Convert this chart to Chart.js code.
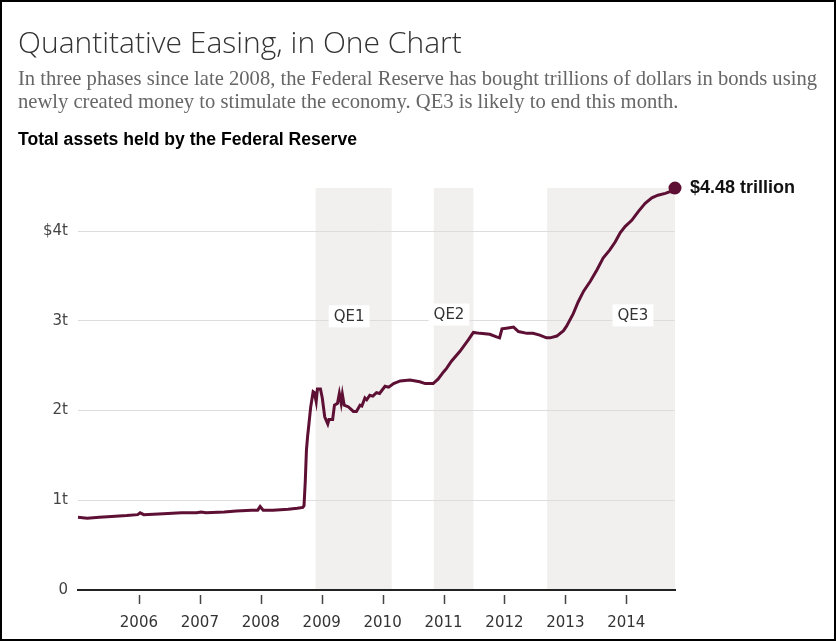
<!DOCTYPE html>
<html>
<head>
<meta charset="utf-8">
<script src="https://cdn.jsdelivr.net/npm/chart.js@4.4.1/dist/chart.umd.min.js"></script>
<style>
  html, body { margin: 0; padding: 0; background: #fff; }
  #page { position: relative; width: 836px; height: 641px; overflow: hidden; }
  #frame { position: absolute; left: 0; top: 0; width: 836px; height: 641px; box-sizing: border-box; border: 2px solid #000; pointer-events: none; }
  #chartBox { position: absolute; left: 0; top: 0; width: 836px; height: 641px; }
  .head { position: absolute; left: 18px; white-space: nowrap; }
  #title { top: 21px; font-family: "Open Sans", sans-serif; font-weight: 300; font-size: 30px; color: #333; }
  #sub { top: 67px; font-family: "Liberation Serif", serif; font-size: 20.6px; line-height: 23px; color: #666; }
  #label { top: 129px; font-family: "Liberation Sans", sans-serif; font-weight: bold; font-size: 17.6px; color: #000; }
</style>
</head>
<body>
<div id="page">
  <div id="chartBox"><canvas id="mychart"></canvas></div>
  <div class="head" id="title">Quantitative Easing, in One Chart</div>
  <div class="head" id="sub">In three phases since late 2008, the Federal Reserve has bought trillions of dollars in bonds using<br>newly created money to stimulate the economy. QE3 is likely to end this month.</div>
  <div class="head" id="label">Total assets held by the Federal Reserve</div>
  <div id="frame"></div>
</div>
<script>
// 連邦準備制度の総資産（兆ドル）、年は小数で表す
var years = [
  2005.00, 2005.15, 2005.35, 2005.55, 2005.80, 2005.98, 2006.02, 2006.08, 2006.40, 2006.70,
  2006.95, 2007.02, 2007.10, 2007.40, 2007.60, 2007.85, 2007.95, 2007.99, 2008.04, 2008.20,
  2008.45, 2008.60, 2008.69, 2008.71, 2008.73, 2008.75, 2008.77, 2008.78, 2008.82, 2008.86,
  2008.88, 2008.91, 2008.93, 2008.98, 2009.01, 2009.05, 2009.10, 2009.12, 2009.18, 2009.21,
  2009.26, 2009.29, 2009.32, 2009.34, 2009.37, 2009.44, 2009.52, 2009.57, 2009.63, 2009.66,
  2009.71, 2009.74, 2009.79, 2009.84, 2009.90, 2009.95, 2010.04, 2010.10, 2010.18, 2010.29,
  2010.45, 2010.61, 2010.70, 2010.83, 2010.91, 2011.00, 2011.05, 2011.13, 2011.27, 2011.41,
  2011.49, 2011.60, 2011.76, 2011.87, 2011.92, 2011.96, 2012.06, 2012.15, 2012.23, 2012.37,
  2012.47, 2012.58, 2012.69, 2012.75, 2012.86, 2012.97, 2013.02, 2013.13, 2013.21, 2013.30,
  2013.41, 2013.52, 2013.62, 2013.73, 2013.82, 2013.90, 2013.98, 2014.09, 2014.20, 2014.31,
  2014.42, 2014.52, 2014.64, 2014.72, 2014.76, 2014.80
];
var assets = [
  0.81, 0.80, 0.81, 0.82, 0.83, 0.84, 0.86, 0.84, 0.85, 0.86,
  0.86, 0.87, 0.86, 0.87, 0.88, 0.89, 0.89, 0.93, 0.89, 0.89,
  0.90, 0.91, 0.92, 0.94, 1.20, 1.56, 1.72, 1.78, 2.04, 2.21,
  2.20, 2.10, 2.24, 2.24, 2.14, 1.93, 1.85, 1.90, 1.90, 2.06,
  2.08, 2.19, 2.08, 2.18, 2.06, 2.04, 1.99, 1.99, 2.06, 2.05,
  2.14, 2.12, 2.17, 2.16, 2.20, 2.19, 2.27, 2.26, 2.30, 2.33,
  2.34, 2.32, 2.30, 2.30, 2.35, 2.43, 2.47, 2.55, 2.66, 2.79,
  2.87, 2.86, 2.85, 2.82, 2.81, 2.91, 2.92, 2.93, 2.88, 2.86,
  2.86, 2.84, 2.81, 2.81, 2.83, 2.89, 2.94, 3.08, 3.21, 3.33,
  3.44, 3.57, 3.70, 3.79, 3.88, 3.98, 4.05, 4.12, 4.22, 4.31,
  4.37, 4.40, 4.42, 4.44, 4.43, 4.48
];

// QEの期間
var qeNames = ['QE1', 'QE2', 'QE3'];
var qeStart = [2008.90, 2010.84, 2012.70];
var qeEnd = [2010.15, 2011.49, 2014.80];

// 目盛り
var xTickValues = [2006, 2007, 2008, 2009, 2010, 2011, 2012, 2013, 2014];
var yTickValues = [0, 1, 2, 3, 4];
var yTickLabels = ['0', '1t', '2t', '3t', '$4t'];
var endLabel = '$4.48 trillion';

// QEラベルの位置（データ座標）
var qeLabelX = [2009.45, 2011.09, 2014.11];
var qeLabelY = [3.05, 3.07, 3.06];

var points = [];
for (var i = 0; i < years.length; i++) {
  points.push({x: years[i], y: assets[i]});
}

var qePlugin = {
  id: 'qe',
  beforeDraw: function(chart) {
    var c = chart.ctx, a = chart.chartArea, xs = chart.scales.x;
    c.save();
    c.fillStyle = '#f1f0ef';
    for (var i = 0; i < qeStart.length; i++) {
      var x1 = xs.getPixelForValue(qeStart[i]);
      var x2 = xs.getPixelForValue(qeEnd[i]);
      c.fillRect(x1, a.top, x2 - x1, a.bottom - a.top);
    }
    c.restore();
  },
  afterDraw: function(chart) {
    var c = chart.ctx, a = chart.chartArea, xs = chart.scales.x, ys = chart.scales.y;
    c.save();
    // 年の目盛り線（軸から少し離す）
    c.strokeStyle = '#444';
    c.lineWidth = 1.5;
    xTickValues.forEach(function(v) {
      var x = Math.round(xs.getPixelForValue(v)) + 0.5;
      c.beginPath();
      c.moveTo(x, a.bottom + 5);
      c.lineTo(x, a.bottom + 14);
      c.stroke();
    });
    // QEラベル
    c.font = '15px "DejaVu Sans", sans-serif';
    c.textAlign = 'center';
    c.textBaseline = 'middle';
    for (var i = 0; i < qeNames.length; i++) {
      var x = xs.getPixelForValue(qeLabelX[i]);
      var y = ys.getPixelForValue(qeLabelY[i]);
      var w = c.measureText(qeNames[i]).width + 10;
      c.fillStyle = '#fff';
      c.fillRect(x - w / 2, y - 11, w, 22);
      c.fillStyle = '#333';
      c.fillText(qeNames[i], x, y + 1);
    }
    // 最終値ラベル
    var last = points.length - 1;
    var lx = xs.getPixelForValue(years[last]);
    var ly = ys.getPixelForValue(assets[last]);
    c.font = 'bold 18px "Liberation Sans", sans-serif';
    c.textAlign = 'left';
    c.fillStyle = '#111';
    c.fillText(endLabel, lx + 15, ly);
    c.restore();
  }
};

var ctx = document.getElementById('mychart');
var myChart = new Chart(ctx, {
  type: 'line',
  data: {
    datasets: [{
      data: points,
      borderColor: '#5e1034',
      backgroundColor: '#5e1034',
      borderWidth: 3,
      tension: 0,
      clip: false,
      pointRadius: function(c) { return c.dataIndex === points.length - 1 ? 5 : 0; },
      pointHoverRadius: 0
    }]
  },
  options: {
    responsive: true,
    maintainAspectRatio: false,
    animation: false,
    events: [],
    layout: { padding: { left: 0, right: 161, top: 188, bottom: 0 } },
    plugins: { legend: { display: false }, tooltip: { enabled: false } },
    scales: {
      x: {
        type: 'linear',
        min: 2005.0,
        max: 2014.8,
        afterBuildTicks: function(s) { s.ticks = xTickValues.map(function(v) { return {value: v}; }); },
        afterFit: function(s) { s.height = 51; },
        grid: { display: true, drawOnChartArea: false, drawTicks: false },
        border: { display: true, color: '#222', width: 2 },
        ticks: {
          padding: 24,
          color: '#333',
          font: { family: '"DejaVu Sans", sans-serif', size: 15 },
          callback: function(v) { return String(v); }
        }
      },
      y: {
        min: 0,
        max: 4.48,
        afterBuildTicks: function(s) { s.ticks = yTickValues.map(function(v) { return {value: v}; }); },
        afterFit: function(s) { s.width = 78; },
        grid: { color: '#dddddd', lineWidth: 1, drawTicks: false },
        border: { display: false },
        ticks: {
          padding: 10,
          color: '#444',
          font: { family: '"DejaVu Sans", sans-serif', size: 15 },
          callback: function(v) {
            var k = yTickValues.indexOf(v);
            return k >= 0 ? yTickLabels[k] : '';
          }
        }
      }
    }
  },
  plugins: [qePlugin]
});
</script>
</body>
</html>
